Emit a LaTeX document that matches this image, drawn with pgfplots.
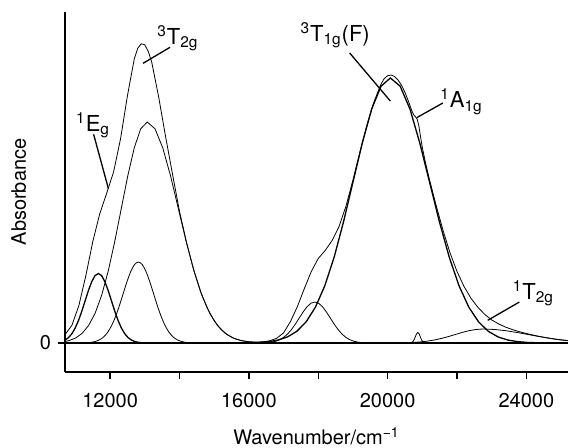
\documentclass[border=0pt]{standalone}
\usepackage{fontspec}
\setmainfont{TeX Gyre Heros}
\usepackage{pgfplots}
\pgfplotsset{compat=1.18}
\begin{document}
\begin{tikzpicture}
\begin{axis}[
  scale only axis, width=251.5pt, height=180pt,
  xmin=10700, xmax=25200, ymin=-29, ymax=331,
  axis x line=bottom, axis y line=left,
  axis line style={-, line width=0.7pt},
  tick align=outside, major tick length=3.5pt,
  every tick/.style={black, line width=0.7pt},
  scaled x ticks=false, scaled y ticks=false,
  xtick={12000,14000,16000,18000,20000,22000,24000},
  xticklabels={12000,,16000,,20000,,24000},
  ytick={0}, yticklabels={0},
  xticklabel style={yshift=-3.5pt},
  xlabel={Wavenumber/cm\textsuperscript{−1}},
  xlabel style={yshift=-3pt},
  ylabel={Absorbance},
  cycle list={{black, line width=0.65pt, smooth, mark=none}},
  label style={font=\normalsize},
]
\coordinate (bl) at (rel axis cs:0,0);
\coordinate (tr) at (rel axis cs:1,1);
% baseline
\addplot[black, line width=0.65pt, sharp plot, mark=none] coordinates {(10700,0) (25200,0)};
% 1Eg
\addplot coordinates {(10700,2.9) (10805,5.53) (10900,9.40) (10995,15.03) (11090,22.57) (11185,31.82) (11280,42.15) (11375,52.46) (11470,61.33) (11565,67.36) (11660,69.5) (11755,67.36) (11850,61.33) (11945,52.46) (12040,42.15) (12135,31.82) (12230,22.57) (12325,15.03) (12420,9.40) (12515,5.53) (12610,3.05) (12705,1.58) (12800,0.77) (12895,0.35) (12990,0.15) (13200,0)};
% second 3T2g component
\addplot coordinates {(11000,0) (11275,0.18) (11385,0.41) (11495,0.90) (11605,1.85) (11715,3.56) (11825,6.45) (11935,10.96) (12045,17.52) (12155,26.30) (12265,37.08) (12375,49.13) (12485,61.14) (12595,71.48) (12705,78.51) (12815,81) (12925,78.51) (13035,71.48) (13145,61.14) (13255,49.13) (13365,37.08) (13475,26.30) (13585,17.52) (13695,10.96) (13805,6.45) (13915,3.56) (14025,1.85) (14135,0.90) (14245,0.41) (14355,0.18) (14600,0)};
% main 3T2g component
\addplot coordinates {(10700,1.5) (10820,2.45) (11007.5,5.0) (11195,9.7) (11382.5,17.6) (11570,29.9) (11757.5,47.8) (11945,71.8) (12132.5,101.2) (12320,134.0) (12507.5,166.8) (12695,195.0) (12882.5,214.2) (13070,221) (13295,214.2) (13520,195.0) (13745,166.8) (13970,134.0) (14195,101.2) (14420,71.8) (14645,47.8) (14870,29.9) (15095,17.6) (15320,9.7) (15545,5.0) (15770,2.45) (15995,1.13) (16220,0.49) (16445,0.20) (16670,0.08)};
% 18000 component
\addplot coordinates {(16325,0.09) (16437.5,0.21) (16550,0.46) (16662.5,0.93) (16775,1.80) (16887.5,3.26) (17000,5.55) (17112.5,8.87) (17225,13.31) (17337.5,18.77) (17450,24.87) (17562.5,30.95) (17675,36.18) (17787.5,39.74) (17900,41) (18012.5,39.74) (18125,36.18) (18237.5,30.95) (18350,24.87) (18462.5,18.77) (18575,13.31) (18687.5,8.87) (18800,5.55) (18912.5,3.26) (19025,1.80) (19137.5,0.93) (19250,0.46) (19362.5,0.21) (19475,0.09)};
% 3T1g(F) component
\addplot coordinates {(15760,0.09) (16030,0.24) (16300,0.58) (16570,1.35) (16840,2.94) (17110,6.04) (17380,11.6) (17650,21.1) (17920,35.9) (18190,57.3) (18460,86.0) (18730,121.3) (19000,160.7) (19270,200.0) (19540,233.9) (19810,256.8) (20080,265) (20362.5,256.8) (20645,233.9) (20927.5,200.0) (21210,160.7) (21492.5,121.3) (21775,86.0) (22057.5,57.3) (22340,35.9) (22622.5,21.1) (22905,11.6) (23187.5,6.04) (23470,2.94) (23752.5,1.35) (24035,0.58) (24317.5,0.24) (24600,0.09)};
% 1A1g
\addplot coordinates {(20660,0.12) (20695,0.46) (20730,1.42) (20765,3.41) (20800,6.37) (20835,9.27) (20870,10.5) (20905,9.27) (20940,6.37) (20975,3.41) (21010,1.42) (21045,0.46) (21080,0.12)};
% 1T2g
\addplot coordinates {(20350,0.16) (20550,0.32) (20750,0.61) (20950,1.11) (21150,1.89) (21350,3.03) (21550,4.55) (21750,6.41) (21950,8.49) (22150,10.57) (22350,12.36) (22550,13.57) (22750,14) (23075,13.57) (23400,12.36) (23725,10.57) (24050,8.49) (24375,6.41) (24700,4.55) (25025,3.03) (25200,2.37)};
% measured spectrum
\addplot coordinates {(10700,8.4) (10900,17.8) (11100,37.5) (11300,67.2) (11500,101.2) (11700,129.1) (11900,149.6) (12100,171.0) (12300,204.0) (12500,247.3) (12700,284.6) (12800,294.9) (12900,299.2) (13000,298.2) (13100,291.6) (13200,280.9) (13400,246.1) (13600,206.3) (13800,168.7) (14000,131.8) (14200,101.1) (14400,74.3) (14600,52.1) (14800,34.9) (15000,22.2) (15200,13.4) (15400,7.75) (15600,4.25) (15800,2.3) (16000,1.3) (16200,0.94) (16400,1.2) (16600,2.2) (16800,4.7) (17000,10.1) (17200,21.5) (17400,36.5) (17600,54.5) (17800,71.5) (18000,84.5) (18200,92.5) (18400,102.5) (18600,116.5) (18800,136.9) (19000,162.8) (19200,190.7) (19400,217.5) (19600,240.5) (19800,258.2) (19900,264.3) (20000,267.3) (20100,268.0) (20200,266.5) (20300,263.0) (20400,257.8) (20500,250.6) (20600,241.8) (20700,232.1) (20750,228.3) (20800,226.4) (20850,224.0) (20900,217.2) (20950,206.1) (21000,195.5) (21100,179.0) (21200,164.3) (21400,137.4) (21600,112.3) (21800,90.1) (22000,71.6) (22200,56.7) (22400,44.9) (22600,35.8) (22800,28.6) (23000,23.1) (23200,19.1) (23400,15.9) (23600,13.4) (23800,11.3) (24000,9.5) (24200,7.9) (24400,6.4) (24600,5.2) (24800,4.0) (25000,3.1) (25200,2.4)};
% annotations
\draw[line width=0.65pt] (axis cs:13727,295.7) -- (axis cs:12950,279.7);
\node[font=\fontsize{11}{13}\selectfont] at (axis cs:13957,304.7) {\textsuperscript{3}T\textsubscript{2g}};
\draw[line width=0.65pt] (axis cs:11525,208.7) -- (axis cs:11951,154.4);
\node[font=\fontsize{11}{13}\selectfont] at (axis cs:11511,217.7) {\textsuperscript{1}E\textsubscript{g}};
\draw[line width=0.65pt] (axis cs:18907,290) -- (axis cs:20078,242);
\node[font=\fontsize{11}{13}\selectfont] at (axis cs:18489,307.7) {\textsuperscript{3}T\textsubscript{1g}(F)};
\draw[line width=0.65pt] (axis cs:21592,240) -- (axis cs:20843,225.4);
\node[font=\fontsize{11}{13}\selectfont] at (axis cs:22129,241.2) {\textsuperscript{1}A\textsubscript{1g}};
\draw[line width=0.65pt] (axis cs:23799,41) -- (axis cs:22886,22.7);
\node[font=\fontsize{11}{13}\selectfont] at (axis cs:24201,49.7) {\textsuperscript{1}T\textsubscript{2g}};
\end{axis}
\pgfresetboundingbox
\path[use as bounding box] ([shift={(-32.5pt,-37.5pt)}]bl) rectangle ([shift={(0pt,6pt)}]tr);
\end{tikzpicture}
\end{document}
